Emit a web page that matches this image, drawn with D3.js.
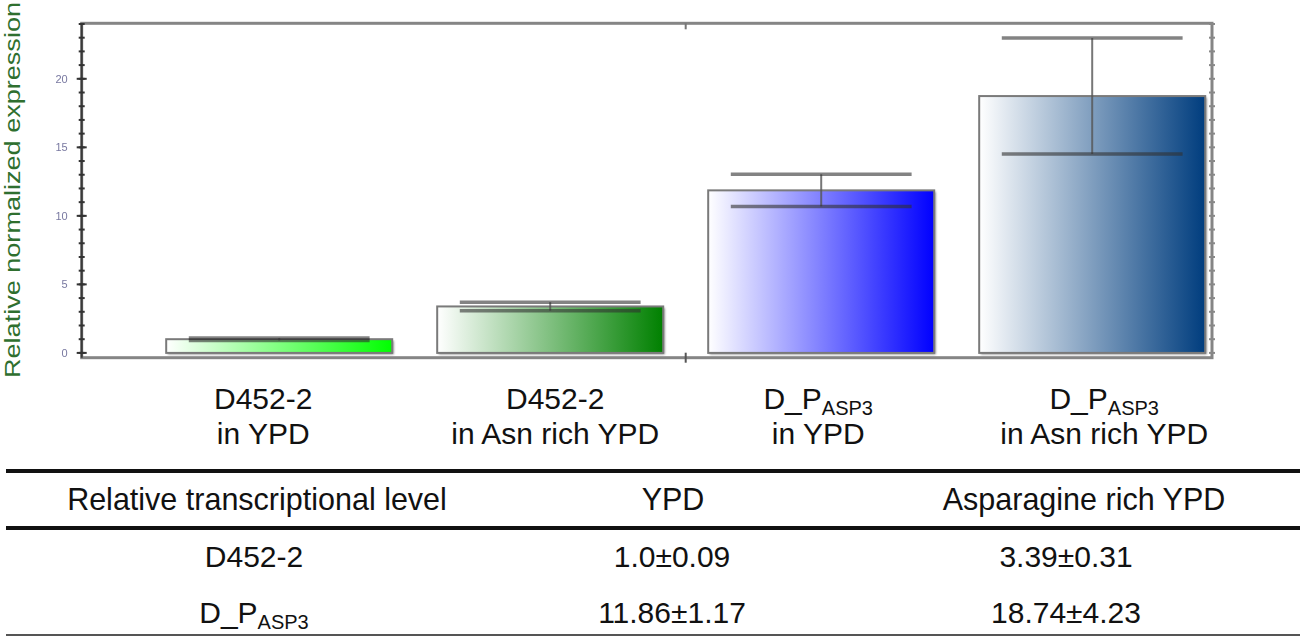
<!DOCTYPE html>
<html>
<head>
<meta charset="utf-8">
<script src="https://cdn.jsdelivr.net/npm/d3@7"></script>
<style>
  html, body { margin: 0; padding: 0; background: #fff; }
  svg { display: block; }
  text { font-family: "Liberation Sans", Arial, sans-serif; }
</style>
</head>
<body>
<svg id="chart" width="1300" height="639"></svg>
<script>
// ---- data ----
const strainMain = ["D452-2", "D452-2", "D_P", "D_P"];
const strainSub = ["", "", "ASP3", "ASP3"];
const media = ["in YPD", "in Asn rich YPD", "in YPD", "in Asn rich YPD"];
const means = [1.0, 3.39, 11.86, 18.74];
const sds = [0.09, 0.31, 1.17, 4.23];
const barColors = ["#00ff00", "#008000", "#0000ff", "#003d7e"];
const majorTicks = [0, 5, 10, 15, 20];
const minorTicks = d3.range(0, 25, 1);
const tableHeader = ["Relative transcriptional level", "YPD", "Asparagine rich YPD"];
const tableStrainMain = ["D452-2", "D_P"];
const tableStrainSub = ["", "ASP3"];

const svg = d3.select("#chart");
const defs = svg.append("defs");

// plot frame
const plotL = 81.7, plotR = 1212, plotT = 23.3, plotB = 357.7;

const y = d3.scaleLinear().domain([-0.35, 24.05]).range([plotB, plotT]);
const x = d3.scaleBand()
  .domain(d3.range(means.length))
  .range([143.7, 1227.7])
  .paddingInner(0.166)
  .paddingOuter(0.083);

// horizontal white-to-colour gradients for the bars
barColors.forEach((c, i) => {
  const g = defs.append("linearGradient").attr("id", "grad" + i)
    .attr("x1", "0%").attr("x2", "100%").attr("y1", "0%").attr("y2", "0%");
  g.append("stop").attr("offset", "0%").attr("stop-color", "#ffffff");
  g.append("stop").attr("offset", "100%").attr("stop-color", c);
});
const shadow = defs.append("filter").attr("id", "soft")
  .attr("x", "-5%").attr("y", "-5%").attr("width", "110%").attr("height", "110%");
shadow.append("feGaussianBlur").attr("stdDeviation", 1.2);
const tickBlur = defs.append("filter").attr("id", "tickblur");
tickBlur.append("feGaussianBlur").attr("stdDeviation", 0.5);

// bars
const bars = svg.append("g");
bars.selectAll("rect.shadow").data(means).join("rect")
  .attr("class", "shadow")
  .attr("x", (d, i) => x(i) + 1.5)
  .attr("y", d => y(d) + 1.5)
  .attr("width", x.bandwidth())
  .attr("height", d => y(0) - y(d))
  .attr("fill", "#8a8a8a")
  .attr("filter", "url(#soft)");
bars.selectAll("rect.bar").data(means).join("rect")
  .attr("class", "bar")
  .attr("x", (d, i) => x(i))
  .attr("y", d => y(d))
  .attr("width", x.bandwidth())
  .attr("height", d => y(0) - y(d))
  .attr("fill", (d, i) => `url(#grad${i})`)
  .attr("stroke", "#7a7a7a")
  .attr("stroke-width", 2);

// error bars
const capHalf = x.bandwidth() * 0.4;
const err = svg.append("g");
means.forEach((m, i) => {
  const cx = x(i) + x.bandwidth() / 2;
  err.append("line")
    .attr("x1", cx).attr("x2", cx)
    .attr("y1", y(m - sds[i])).attr("y2", y(m + sds[i]))
    .attr("stroke", "#555").attr("stroke-width", 2).attr("stroke-opacity", 0.8);
  [m + sds[i], m - sds[i]].forEach(v => {
    err.append("line")
      .attr("x1", cx - capHalf).attr("x2", cx + capHalf)
      .attr("y1", y(v)).attr("y2", y(v))
      .attr("stroke", "#303030").attr("stroke-opacity", 0.6)
      .attr("stroke-width", 3.5);
  });
});

// frame
const frame = svg.append("g");
frame.append("rect")
  .attr("x", plotL).attr("y", plotT)
  .attr("width", plotR - plotL).attr("height", plotB - plotT)
  .attr("fill", "none").attr("stroke", "#858585").attr("stroke-width", 3);
frame.append("line")
  .attr("x1", plotL).attr("x2", plotL).attr("y1", plotT).attr("y2", plotB)
  .attr("stroke", "#3a3a3a").attr("stroke-width", 2);

// left axis: minor and major ticks crossing the axis
const ax = svg.append("g");
ax.selectAll("line.minor").data(minorTicks).join("line")
  .attr("class", "minor")
  .attr("x1", plotL - 3).attr("x2", plotL + 3)
  .attr("y1", d => y(d)).attr("y2", d => y(d))
  .attr("stroke", "#333").attr("stroke-width", 2);
ax.selectAll("line.major").data(majorTicks).join("line")
  .attr("class", "major")
  .attr("x1", plotL - 5).attr("x2", plotL + 5)
  .attr("y1", d => y(d)).attr("y2", d => y(d))
  .attr("stroke", "#333").attr("stroke-width", 2);
ax.selectAll("text").data(majorTicks).join("text")
  .attr("x", plotL - 14).attr("y", d => y(d) + 4)
  .attr("text-anchor", "end")
  .attr("font-size", 11)
  .attr("fill", "#7878a0")
  .attr("filter", "url(#tickblur)")
  .text(d => d);

// right axis ticks
svg.append("g").selectAll("line").data(minorTicks).join("line")
  .attr("x1", plotR - 3).attr("x2", plotR + 3)
  .attr("y1", d => y(d)).attr("y2", d => y(d))
  .attr("stroke", "#888").attr("stroke-width", 2);

// group separator ticks on top and bottom
const sep = (x(1) + x.bandwidth() + x(2)) / 2;
svg.append("line").attr("x1", sep).attr("x2", sep).attr("y1", plotT).attr("y2", plotT + 6)
  .attr("stroke", "#777").attr("stroke-width", 2);
svg.append("line").attr("x1", sep).attr("x2", sep).attr("y1", plotB - 5).attr("y2", plotB + 5)
  .attr("stroke", "#555").attr("stroke-width", 2);

// y-axis title
svg.append("text")
  .attr("transform", `translate(20,190) rotate(-90)`)
  .attr("text-anchor", "middle")
  .attr("font-size", 21.5)
  .attr("fill", "#2f6f2f")
  .attr("textLength", 376)
  .attr("lengthAdjust", "spacingAndGlyphs")
  .text("Relative  normalized expression");

// category labels (small horizontal nudges per column)
const labelNudge = [-16, 5, -3, 12];
const catG = svg.append("g");
means.forEach((m, i) => {
  const cx = x(i) + x.bandwidth() / 2 + labelNudge[i];
  const t1 = catG.append("text").attr("x", cx).attr("y", 409)
    .attr("text-anchor", "middle").attr("font-size", 30).attr("fill", "#111");
  t1.append("tspan").text(strainMain[i]);
  if (strainSub[i]) {
    t1.append("tspan").attr("font-size", 20).attr("dy", 6).text(strainSub[i]);
  }
  catG.append("text").attr("x", cx).attr("y", 444)
    .attr("text-anchor", "middle").attr("font-size", 30).attr("fill", "#111")
    .text(media[i]);
});

// summary table
const fmtMean = v => (v % 1 === 0 ? v.toFixed(1) : String(v));
const cell = i => `${fmtMean(means[i])}±${sds[i]}`;
const tbl = svg.append("g");
tbl.append("line").attr("x1", 6).attr("x2", 1300).attr("y1", 471).attr("y2", 471)
  .attr("stroke", "#111").attr("stroke-width", 4);
tbl.append("line").attr("x1", 6).attr("x2", 1300).attr("y1", 528).attr("y2", 528)
  .attr("stroke", "#111").attr("stroke-width", 4);
tbl.append("line").attr("x1", 6).attr("x2", 1300).attr("y1", 635).attr("y2", 635)
  .attr("stroke", "#555").attr("stroke-width", 2);

const headX = [257, 673, 1084];
tableHeader.forEach((h, j) => {
  tbl.append("text").attr("x", headX[j]).attr("y", 510)
    .attr("text-anchor", "middle").attr("font-size", 30.5).attr("fill", "#111").text(h);
});
const rowY = [567, 623];
const colX = [254, 672, 1066];
tableStrainMain.forEach((s, r) => {
  const t = tbl.append("text").attr("x", colX[0]).attr("y", rowY[r])
    .attr("text-anchor", "middle").attr("font-size", 30).attr("fill", "#111");
  t.append("tspan").text(s);
  if (tableStrainSub[r]) t.append("tspan").attr("font-size", 20).attr("dy", 6).text(tableStrainSub[r]);
  // YPD column: bars 0 and 2; asparagine-rich column: bars 1 and 3
  tbl.append("text").attr("x", colX[1]).attr("y", rowY[r])
    .attr("text-anchor", "middle").attr("font-size", 30).attr("fill", "#111").text(cell(r * 2));
  tbl.append("text").attr("x", colX[2]).attr("y", rowY[r])
    .attr("text-anchor", "middle").attr("font-size", 30).attr("fill", "#111").text(cell(r * 2 + 1));
});
</script>
</body>
</html>
